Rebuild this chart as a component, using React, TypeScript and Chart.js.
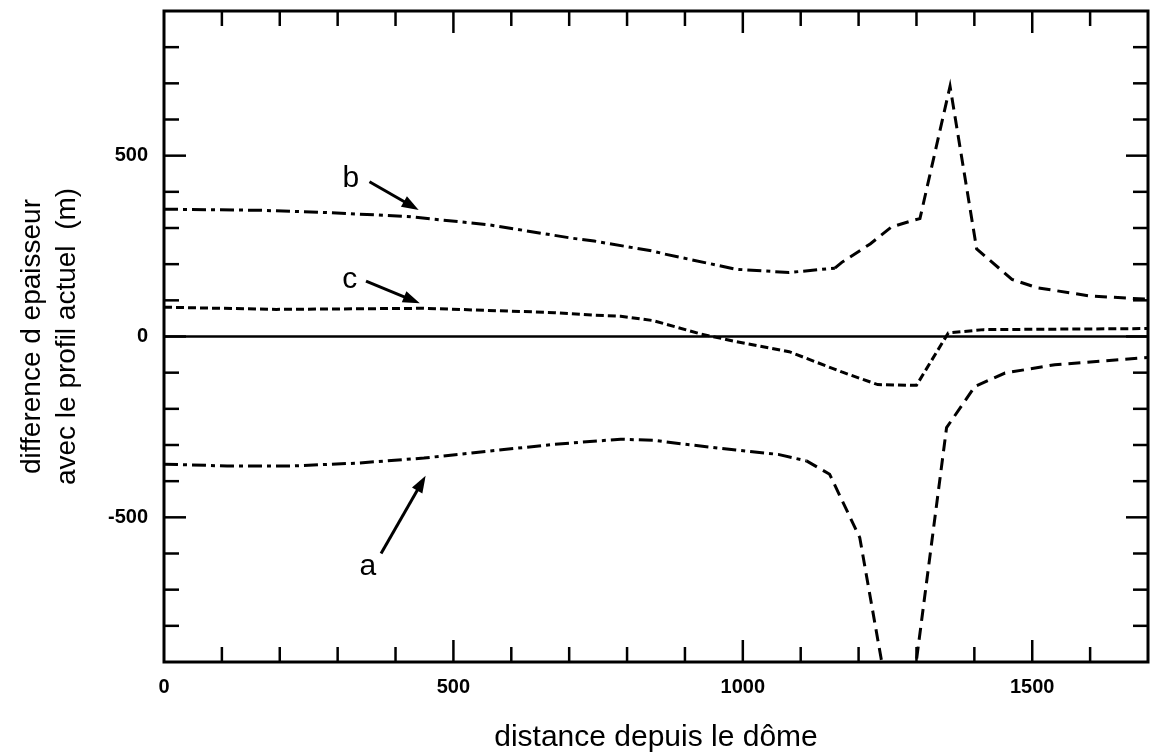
import React, { useEffect, useRef } from 'react';
import { Chart, registerables } from 'chart.js';

Chart.register(...registerables);

// ---- axes ----
const xMin = 0;
const xMax = 1700;
const yMin = -900;
const yMax = 900;
const tickStep = 100;
const majorEvery = 500;
const xTickLabelValues = [0, 500, 1000, 1500];
const yTickLabelValues = [-500, 0, 500];
const xTitle = 'distance depuis le dôme';
const yTitle = ['difference d epaisseur', 'avec le profil actuel  (m)'];

// ---- series ----
const zeroX = [0, 1700];
const zeroY = [0, 0];

const aX = [0, 109, 221, 335, 449, 561, 675, 789, 847, 900, 988, 1061, 1110, 1150, 1202, 1239, 1251, 1291, 1300, 1352, 1401, 1453, 1539, 1700];
const aY = [-353, -358, -358, -350, -336, -317, -298, -284, -287, -298, -314, -326, -344, -381, -556, -891, -1000, -1000, -895, -252, -138, -101, -78, -58];

const bX = [0, 165, 278, 420, 561, 704, 743, 845, 865, 988, 1080, 1159, 1171, 1220, 1257, 1294, 1306, 1358, 1404, 1465, 1508, 1600, 1700];
const bY = [352, 349, 343, 332, 309, 272, 264, 236, 228, 186, 177, 189, 205, 256, 303, 321, 326, 692, 242, 158, 135, 112, 103];

const cX = [0, 194, 449, 675, 743, 789, 845, 927, 988, 1080, 1171, 1233, 1300, 1355, 1416, 1700];
const cY = [81, 75, 78, 66, 59, 56, 44, 7, -14, -42, -98, -133, -135, 10, 19, 22];

// ---- annotation labels with arrows ----
const noteText = ['a', 'b', 'c'];
const noteX = [352, 323, 321];
const noteY = [-637, 436, 156];
const arrowTailX = [375, 355, 349];
const arrowTailY = [-600, 428, 153];
const arrowTipX = [452, 440, 442];
const arrowTipY = [-385, 350, 92];

const dashSwitchX = 1100;
const FONT = "'Liberation Sans', Arial, Helvetica, sans-serif";

const pts = (xs: number[], ys: number[]) => xs.map((x, i) => ({ x, y: ys[i] }));

const framePlugin = {
  id: 'frameTicks',
  afterDatasetsDraw(chart: any) {
    const { ctx, chartArea, scales } = chart;
    const { left, right, top, bottom } = chartArea;
    const xs = scales.x;
    const ys = scales.y;
    ctx.save();
    ctx.strokeStyle = '#000';
    ctx.lineWidth = 2.5;
    const seg = (x1: number, y1: number, x2: number, y2: number) => {
      ctx.beginPath();
      ctx.moveTo(x1, y1);
      ctx.lineTo(x2, y2);
      ctx.stroke();
    };
    for (const t of xs.ticks) {
      const v = t.value;
      if (v <= xMin || v >= xMax) continue;
      const p = xs.getPixelForValue(v);
      const len = v % majorEvery === 0 ? 22 : 15;
      seg(p, bottom, p, bottom - len);
      seg(p, top, p, top + len);
    }
    for (const t of ys.ticks) {
      const v = t.value;
      if (v <= yMin || v >= yMax) continue;
      const p = ys.getPixelForValue(v);
      const len = v % majorEvery === 0 ? 22 : 15;
      seg(left, p, left + len, p);
      seg(right, p, right - len, p);
    }
    ctx.lineWidth = 3;
    ctx.strokeRect(left, top, right - left, bottom - top);
    ctx.restore();
  },
};

const notePlugin = {
  id: 'notes',
  afterDatasetsDraw(chart: any) {
    const { ctx, scales } = chart;
    const xs = scales.x;
    const ys = scales.y;
    ctx.save();
    ctx.fillStyle = '#000';
    ctx.strokeStyle = '#000';
    ctx.font = `30px ${FONT}`;
    ctx.textAlign = 'center';
    ctx.textBaseline = 'middle';
    for (let i = 0; i < noteText.length; i++) {
      ctx.fillText(noteText[i], xs.getPixelForValue(noteX[i]), ys.getPixelForValue(noteY[i]));
      const x1 = xs.getPixelForValue(arrowTailX[i]);
      const y1 = ys.getPixelForValue(arrowTailY[i]);
      const x2 = xs.getPixelForValue(arrowTipX[i]);
      const y2 = ys.getPixelForValue(arrowTipY[i]);
      const ang = Math.atan2(y2 - y1, x2 - x1);
      const headLen = 17;
      const headW = 6;
      const bx = x2 - headLen * Math.cos(ang);
      const by = y2 - headLen * Math.sin(ang);
      ctx.lineWidth = 3;
      ctx.beginPath();
      ctx.moveTo(x1, y1);
      ctx.lineTo(bx + 2 * Math.cos(ang), by + 2 * Math.sin(ang));
      ctx.stroke();
      ctx.beginPath();
      ctx.moveTo(x2, y2);
      ctx.lineTo(bx + headW * Math.sin(ang), by - headW * Math.cos(ang));
      ctx.lineTo(bx - headW * Math.sin(ang), by + headW * Math.cos(ang));
      ctx.closePath();
      ctx.fill();
    }
    ctx.restore();
  },
};

export default function App() {
  const canvasRef = useRef<HTMLCanvasElement | null>(null);

  useEffect(() => {
    const canvas = canvasRef.current;
    if (!canvas) return;
    const longDash = (ctx: any) => (ctx.p0.parsed.x >= dashSwitchX ? [12, 7] : undefined);
    const chart = new Chart(canvas, {
      type: 'line',
      data: {
        datasets: [
          {
            label: 'zero',
            data: pts(zeroX, zeroY),
            borderColor: '#000',
            borderWidth: 2.5,
            pointRadius: 0,
          },
          {
            label: 'a',
            data: pts(aX, aY),
            borderColor: '#000',
            borderWidth: 3,
            borderDash: [14, 5, 4, 5],
            segment: { borderDash: longDash },
            pointRadius: 0,
          },
          {
            label: 'b',
            data: pts(bX, bY),
            borderColor: '#000',
            borderWidth: 3,
            borderDash: [14, 5, 4, 5],
            segment: { borderDash: longDash },
            pointRadius: 0,
          },
          {
            label: 'c',
            data: pts(cX, cY),
            borderColor: '#000',
            borderWidth: 3,
            borderDash: [8, 4],
            pointRadius: 0,
          },
        ],
      },
      options: {
        animation: false,
        responsive: false,
        devicePixelRatio: 1,
        layout: { padding: { top: 11, right: 3, left: 0, bottom: 0 } },
        plugins: {
          legend: { display: false },
          tooltip: { enabled: false },
        },
        scales: {
          x: {
            type: 'linear',
            min: xMin,
            max: xMax,
            grid: { display: false, drawTicks: false },
            border: { display: false },
            ticks: {
              stepSize: tickStep,
              autoSkip: false,
              maxRotation: 0,
              padding: 13,
              color: '#000',
              font: { family: FONT, size: 20, weight: 'bold' },
              callback: (v: any) => (xTickLabelValues.includes(Number(v)) ? String(v) : ''),
            },
            title: {
              display: true,
              text: xTitle,
              color: '#000',
              font: { family: FONT, size: 30 },
              padding: { top: 0, bottom: 0 },
            },
            afterFit: (s: any) => {
              s.height = 94;
              s.paddingLeft = 0;
              s.paddingRight = 0;
            },
          },
          y: {
            type: 'linear',
            min: yMin,
            max: yMax,
            grid: { display: false, drawTicks: false },
            border: { display: false },
            ticks: {
              stepSize: tickStep,
              autoSkip: false,
              padding: 16,
              color: '#000',
              font: { family: FONT, size: 20, weight: 'bold' },
              callback: (v: any) => (yTickLabelValues.includes(Number(v)) ? String(v) : ''),
            },
            title: {
              display: true,
              text: yTitle,
              color: '#000',
              font: { family: FONT, size: 28, lineHeight: 1.25 },
              padding: { top: 14.5, bottom: 0 },
            },
            afterFit: (s: any) => {
              s.width = 164;
              s.paddingTop = 0;
              s.paddingBottom = 0;
            },
          },
        },
      } as any,
      plugins: [framePlugin, notePlugin],
    });
    return () => chart.destroy();
  }, []);

  return (
    <div style={{ position: 'absolute', left: 0, top: 0, width: 1151, height: 756, background: '#fff' }}>
      <canvas ref={canvasRef} width={1151} height={756} style={{ display: 'block' }} />
    </div>
  );
}
